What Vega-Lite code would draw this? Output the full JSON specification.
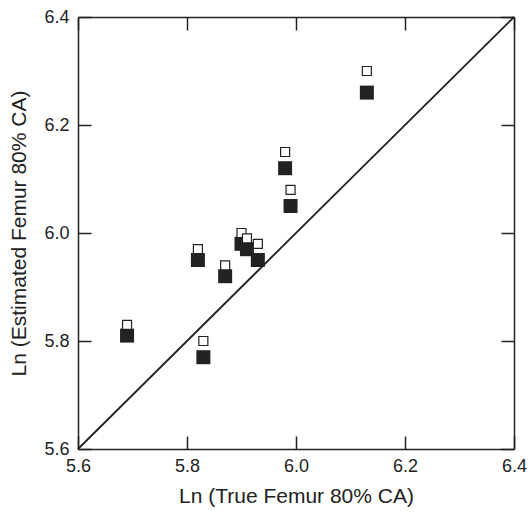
{
  "$schema": "https://vega.github.io/schema/vega-lite/v6.json",
  "width": 436,
  "height": 432,
  "autosize": {"type": "none"},
  "padding": {"left": 78, "top": 17, "right": 14, "bottom": 64},
  "background": "white",
  "config": {
    "view": {"stroke": null},
    "font": "Liberation Sans",
    "axis": {
      "domainColor": "#222",
      "domainWidth": 1.5,
      "tickColor": "#222",
      "tickWidth": 1.5,
      "tickSize": -13,
      "labelFont": "Liberation Sans",
      "labelFontSize": 18,
      "labelColor": "#222",
      "titleFont": "Liberation Sans",
      "titleFontSize": 21,
      "titleFontWeight": "normal",
      "titleColor": "#222",
      "grid": false,
      "labelFlush": false,
      "labelOverlap": false
    }
  },
  "datasets": {
    "pts": [
      {"true": 5.69, "est": 5.81, "kind": "filled"},
      {"true": 5.83, "est": 5.77, "kind": "filled"},
      {"true": 5.82, "est": 5.95, "kind": "filled"},
      {"true": 5.87, "est": 5.92, "kind": "filled"},
      {"true": 5.90, "est": 5.98, "kind": "filled"},
      {"true": 5.91, "est": 5.97, "kind": "filled"},
      {"true": 5.93, "est": 5.95, "kind": "filled"},
      {"true": 5.98, "est": 6.12, "kind": "filled"},
      {"true": 5.99, "est": 6.05, "kind": "filled"},
      {"true": 6.13, "est": 6.26, "kind": "filled"},
      {"true": 5.69, "est": 5.83, "kind": "open"},
      {"true": 5.83, "est": 5.80, "kind": "open"},
      {"true": 5.82, "est": 5.97, "kind": "open"},
      {"true": 5.87, "est": 5.94, "kind": "open"},
      {"true": 5.90, "est": 6.00, "kind": "open"},
      {"true": 5.91, "est": 5.99, "kind": "open"},
      {"true": 5.93, "est": 5.98, "kind": "open"},
      {"true": 5.98, "est": 6.15, "kind": "open"},
      {"true": 5.99, "est": 6.08, "kind": "open"},
      {"true": 6.13, "est": 6.30, "kind": "open"}
    ],
    "diag": [
      {"true": 5.6, "est": 5.6},
      {"true": 6.4, "est": 6.4}
    ]
  },
  "resolve": {"axis": {"x": "independent", "y": "independent"}},
  "layer": [
    {
      "data": {"name": "diag"},
      "mark": {"type": "line", "color": "#222", "strokeWidth": 1.8},
      "encoding": {
        "x": {
          "field": "true", "type": "quantitative",
          "scale": {"domain": [5.6, 6.4], "nice": false, "zero": false},
          "axis": {
            "orient": "bottom",
            "values": [5.6, 5.8, 6.0, 6.2, 6.4],
            "format": ".1f",
            "title": "Ln (True Femur 80% CA)",
            "labelPadding": 21,
            "titlePadding": 10
          }
        },
        "y": {
          "field": "est", "type": "quantitative",
          "scale": {"domain": [5.6, 6.4], "nice": false, "zero": false},
          "axis": {
            "orient": "left",
            "values": [5.6, 5.8, 6.0, 6.2, 6.4],
            "format": ".1f",
            "title": "Ln (Estimated Femur 80% CA)",
            "labelPadding": 22,
            "titlePadding": 14
          }
        }
      }
    },
    {
      "data": {"name": "pts"},
      "transform": [{"filter": "datum.kind === 'filled'"}],
      "mark": {"type": "square", "size": 196, "filled": true, "color": "#222", "opacity": 1},
      "encoding": {
        "x": {
          "field": "true", "type": "quantitative",
          "axis": {"orient": "top", "values": [5.6, 5.8, 6.0, 6.2, 6.4], "labels": false, "title": null}
        },
        "y": {
          "field": "est", "type": "quantitative",
          "axis": {"orient": "right", "values": [5.6, 5.8, 6.0, 6.2, 6.4], "labels": false, "title": null}
        }
      }
    },
    {
      "data": {"name": "pts"},
      "transform": [{"filter": "datum.kind === 'open'"}],
      "mark": {"type": "square", "size": 81, "filled": true, "fill": "white", "stroke": "#222", "strokeWidth": 1.2, "opacity": 1},
      "encoding": {
        "x": {"field": "true", "type": "quantitative", "axis": null},
        "y": {"field": "est", "type": "quantitative", "axis": null}
      }
    }
  ]
}
